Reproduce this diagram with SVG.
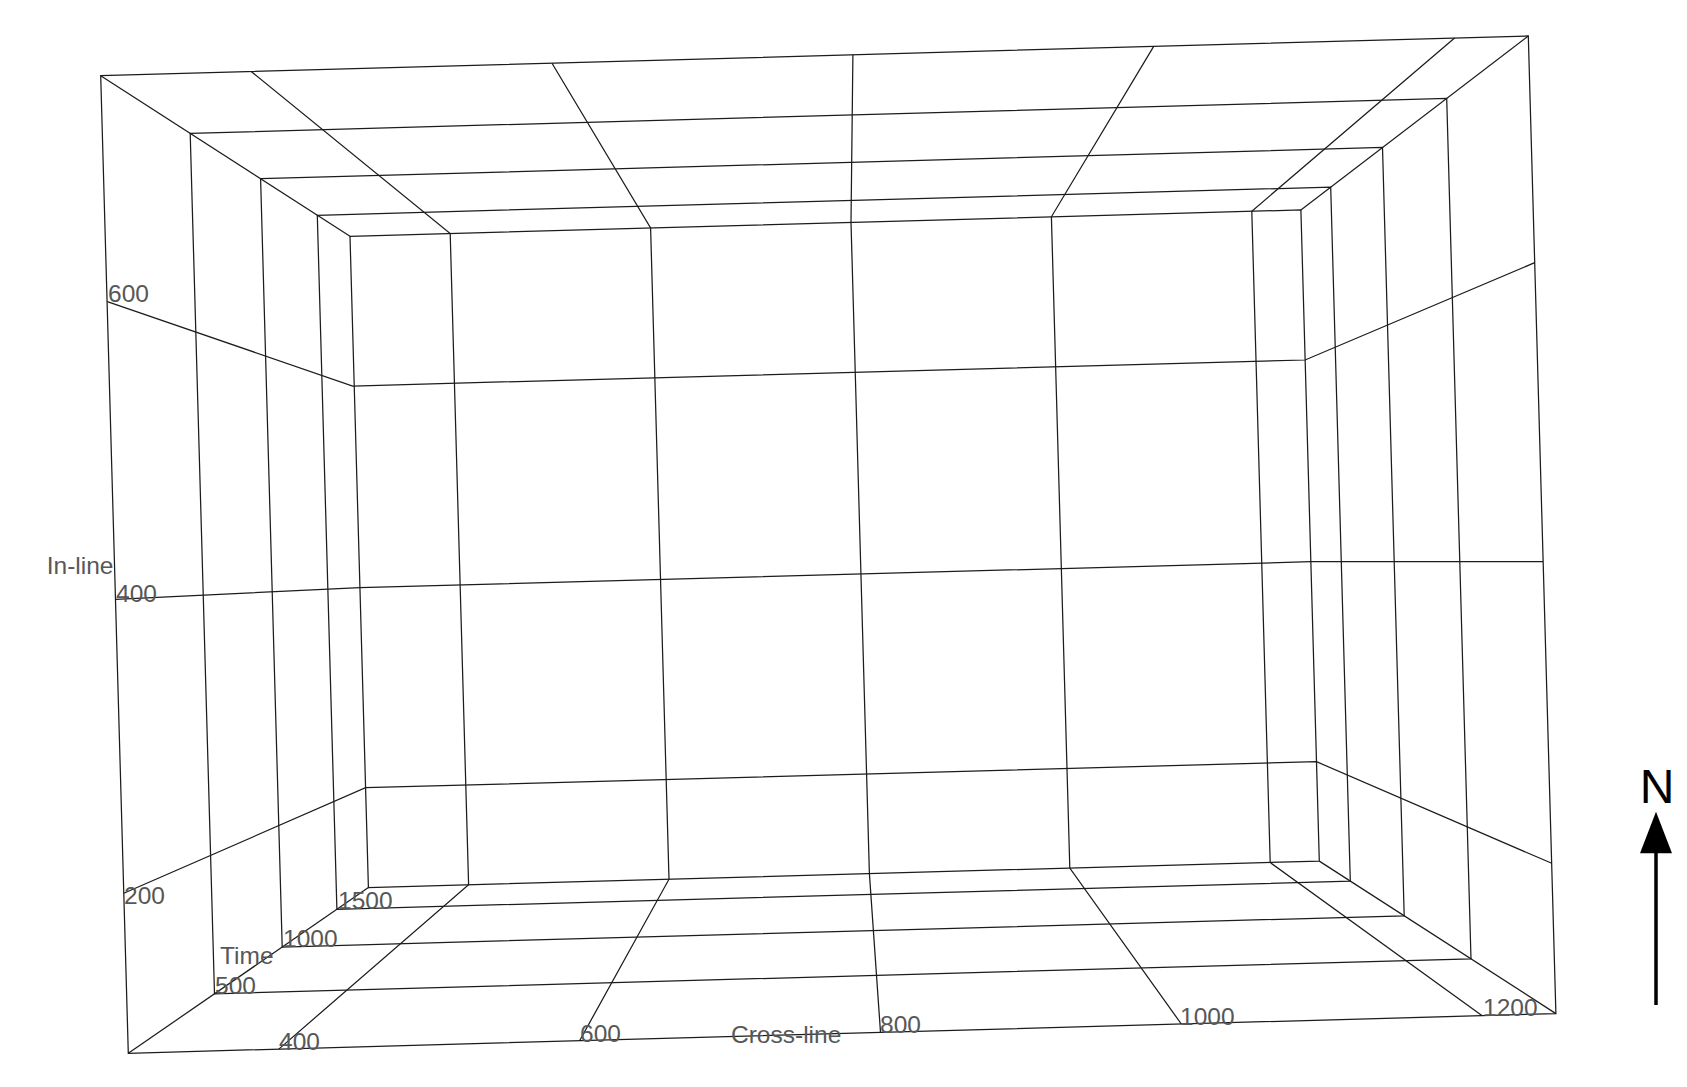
<svg xmlns="http://www.w3.org/2000/svg" width="1687" height="1087" viewBox="0 0 1687 1087">
  <style>
    .ln { fill: none; stroke: #1c1c1c; stroke-width: 1.25; stroke-linejoin: miter; }
    .lbl { font-family: "Liberation Sans", Arial, sans-serif; font-size: 24.5px; fill: #575757; }
    .north { font-family: "Liberation Sans", Arial, sans-serif; font-size: 48px; fill: #000; }
  </style>
  <rect width="1687" height="1087" fill="#ffffff"/>

  <g id="connectors">
    <!-- time-depth rectangles -->
    <g id="depth-rectangles">
      <polygon class="ln" points="100.7,75.7 1528.3,36 1555.9,1013.6 128.3,1053.3"/>
      <polygon class="ln" points="190.2,133.4 1446.7,98.4 1471.0,958.8 214.5,993.8"/>
      <polygon class="ln" points="260.6,178.7 1382.5,147.5 1404.2,915.8 282.2,947.0"/>
      <polygon class="ln" points="317.3,215.3 1330.7,187.1 1350.3,881.1 336.9,909.3"/>
      <polygon class="ln" points="350.0,236.3 1300.9,209.9 1319.3,861.1 368.4,887.5"/>
    </g>
    <!-- corner edges -->
    <g id="corner-edges">
      <line class="ln" x1="100.7" y1="75.7" x2="350.0" y2="236.3"/>
      <line class="ln" x1="1528.3" y1="36" x2="1300.9" y2="209.9"/>
      <line class="ln" x1="1555.9" y1="1013.6" x2="1319.3" y2="861.1"/>
      <line class="ln" x1="128.3" y1="1053.3" x2="368.4" y2="887.5"/>
    </g>
    <!-- cross-line grid lines: ceiling, back wall, floor -->
    <g id="crossline-lines">
      <polyline class="ln" points="251.2,71.5 450.2,233.5 468.6,884.7 278.8,1049.1"/>
      <polyline class="ln" points="552.0,63.2 650.6,228.0 669.0,879.2 579.6,1040.8"/>
      <polyline class="ln" points="852.9,54.8 851.0,222.4 869.4,873.6 880.5,1032.4"/>
      <polyline class="ln" points="1153.7,46.4 1051.4,216.8 1069.8,868.0 1181.3,1024.0"/>
      <polyline class="ln" points="1454.6,38.0 1251.8,211.2 1270.2,862.5 1482.2,1015.7"/>
    </g>
    <!-- in-line grid lines: left wall, back wall, right wall -->
    <g id="inline-lines">
      <polyline class="ln" points="107.3,301.7 352.7,386 1305.1,360 1534.7,262.7"/>
      <polyline class="ln" points="115.7,599.3 359.9,587.7 1310.8,561.7 1543.1,561.7"/>
      <polyline class="ln" points="123.8,893.3 365.6,787.7 1316.5,761.7 1551.7,863.3"/>
    </g>
  </g>

  <g id="inline-axis">
    <text class="lbl" x="113.5" y="574.3" text-anchor="end">In-line</text>
    <text class="lbl" x="108" y="301.5">600</text>
    <text class="lbl" x="116" y="601.5">400</text>
    <text class="lbl" x="124" y="904">200</text>
  </g>

  <g id="time-axis">
    <text class="lbl" x="220" y="964">Time</text>
    <text class="lbl" x="215" y="993.5">500</text>
    <text class="lbl" x="283" y="947">1000</text>
    <text class="lbl" x="338" y="909">1500</text>
  </g>

  <g id="crossline-axis">
    <text class="lbl" x="731" y="1042.5">Cross-line</text>
    <text class="lbl" x="279" y="1049.5">400</text>
    <text class="lbl" x="580" y="1042">600</text>
    <text class="lbl" x="880" y="1032.5">800</text>
    <text class="lbl" x="1180" y="1024.5">1000</text>
    <text class="lbl" x="1483" y="1016">1200</text>
  </g>

  <g id="north-arrow">
    <text class="north" x="1657" y="803" text-anchor="middle">N</text>
    <line x1="1656" y1="1005" x2="1656" y2="850" stroke="#000" stroke-width="3.5"/>
    <polygon points="1656,811.7 1640,853.3 1672,853.3" fill="#000"/>
  </g>
</svg>
